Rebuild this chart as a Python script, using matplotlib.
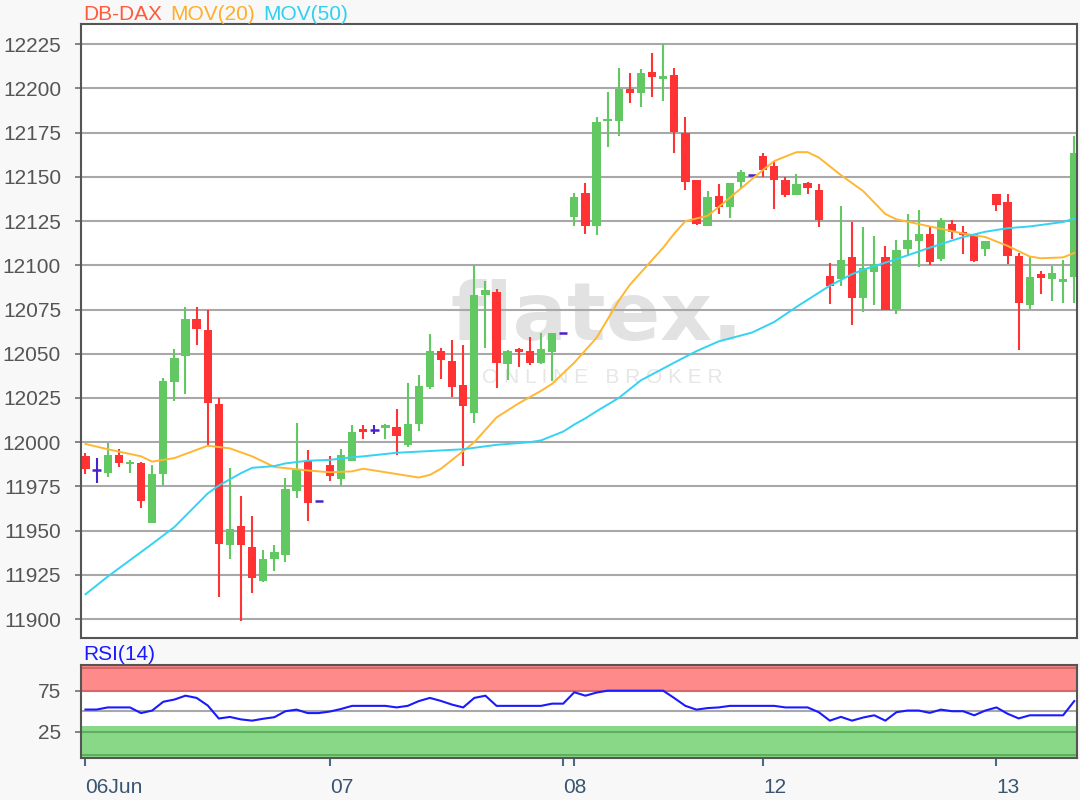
import matplotlib
matplotlib.use('Agg')
import matplotlib.pyplot as plt
import numpy as np

# OHLC per candle
opens = [11992, 11984, 11982.5, 11993, 11987.5, 11988, 11954.5, 11982, 12034, 12048.5,
         12069.5, 12063.5, 12021.5, 11942, 11952.5, 11941, 11921.5, 11934, 11936, 11972.5,
         11989.5, 11967, 11987, 11979, 11989.5, 12007, 12007, 12008, 12008.5, 11998.5,
         12010, 12031, 12051.5, 12046, 12032.5, 12016.5, 12083, 12085, 12044, 12052.5,
         12051.5, 12045, 12051, 12062, 12127.5, 12141, 12122.5, 12181.5, 12181.5, 12199.5,
         12197.5, 12209.5, 12205.5, 12207.5, 12175, 12148, 12122.5, 12139, 12133, 12147,
         12151, 12162, 12156, 12148, 12139.5, 12146.5, 12142.5, 12094, 12092, 12104.5,
         12081.5, 12096, 12104.5, 12075.5, 12109, 12113.5, 12117.5, 12103.5, 12123.5, 12119,
         12117.5, 12109, 12140.5, 12136, 12105.5, 12077.5, 12095, 12092, 12090.5, 12093.5]
highs = [11994, 11991, 11999.5, 11996, 11990, 11989, 11987, 12036.5, 12052.5, 12076.5,
         12076.5, 12074.5, 12025, 11985.5, 11969.5, 11958, 11939, 11942, 11980, 12011,
         11995.5, 11967, 11992, 11996, 12009.5, 12009.5, 12009.5, 12010.5, 12018.5, 12033.5,
         12038, 12061, 12053.5, 12057.5, 12055, 12100, 12091, 12086.5, 12052, 12053.5,
         12059.5, 12062, 12062, 12062, 12141, 12146.5, 12184, 12198, 12211.5, 12208.5,
         12211, 12220, 12225, 12211.5, 12184, 12148, 12142, 12146, 12146.5, 12154,
         12151, 12163.5, 12158.5, 12150, 12151.5, 12147, 12146, 12101.5, 12133.5, 12124.5,
         12121.5, 12116.5, 12111, 12114.5, 12129, 12131.5, 12121.5, 12126.5, 12125.5, 12122,
         12117.5, 12113.5, 12140.5, 12140.5, 12107, 12105.5, 12097, 12099.5, 12103, 12173]
lows = [11982, 11977, 11980.5, 11986, 11982.5, 11963, 11954.5, 11976, 12023.5, 12027.5,
        12055, 11998.5, 11912.5, 11934, 11899, 11914.5, 11921, 11927, 11932.5, 11968.5,
        11955.5, 11967, 11978, 11976, 11989.5, 12002, 12004.5, 12002, 11993, 11997,
        12006.5, 12030, 12035.5, 12025.5, 11986.5, 12011, 12053, 12030.5, 12035, 12042.5,
        12043.5, 12044, 12034.5, 12062, 12122.5, 12118, 12117, 12167, 12173, 12192,
        12189.5, 12195, 12193, 12163.5, 12142.5, 12123, 12122.5, 12129, 12127, 12143,
        12151, 12150, 12132, 12138.5, 12139.5, 12140.5, 12121.5, 12078, 12088.5, 12066,
        12073.5, 12077.5, 12074.5, 12072.5, 12105, 12099, 12100, 12102.5, 12115, 12106.5,
        12102, 12105.5, 12131, 12100.5, 12052, 12075.5, 12084, 12080, 12078.5, 12078.5]
closes = [11985, 11984, 11992.5, 11988, 11989, 11966.5, 11982, 12034.5, 12047.5, 12069.5,
          12064, 12022, 11942.5, 11951, 11942, 11923, 11934, 11938, 11973.5, 11984.5,
          11965.5, 11967, 11981, 11992.5, 12006, 12006, 12007, 12009.5, 12003.5, 12010.5,
          12032, 12051.5, 12046.5, 12031, 12020.5, 12083.5, 12086, 12045, 12051.5, 12051,
          12045, 12052.5, 12062, 12062, 12138.5, 12122.5, 12181, 12182.5, 12199.5, 12197.5,
          12208.5, 12206.5, 12207, 12175.5, 12147, 12123.5, 12138.5, 12133, 12146.5, 12152.5,
          12151, 12154, 12148.5, 12140, 12146, 12143.5, 12125.5, 12088.5, 12103, 12081.5,
          12098.5, 12100.5, 12075, 12108.5, 12114.5, 12117.5, 12102, 12125.5, 12119, 12117,
          12102.5, 12113.5, 12134, 12105.5, 12078.5, 12093.5, 12093, 12095.5, 12092.5, 12163.5]

# moving averages (candle index, value)
ma20_x = [0, 2, 5, 6, 8, 11, 13, 15, 17, 20, 22, 24, 25, 27, 30, 31, 32, 34, 35, 37, 39, 41, 42,
          44, 45, 46, 48, 49, 50, 52, 53, 54, 56, 57, 59, 61, 62, 64, 65, 66, 68, 70, 72, 73,
          76, 79, 81, 83, 85, 86, 88, 89]
ma20_y = [11999, 11996, 11992, 11989, 11991, 11998, 11996.5, 11992, 11986, 11984, 11983, 11983.5,
          11985, 11983, 11980, 11981.5, 11985, 11995, 12000, 12014, 12022, 12029, 12033,
          12045, 12052, 12059, 12080, 12089, 12096, 12110, 12118, 12125, 12128, 12133, 12143.5,
          12154, 12159, 12164, 12164, 12161, 12151, 12142, 12129, 12126,
          12122, 12118, 12116, 12111, 12105, 12104, 12104.5, 12107]
ma50_x = [0, 2, 6, 8, 11, 12, 14, 15, 17, 18, 20, 22, 24, 25, 28, 31, 34, 37, 40, 41, 43, 44,
          45, 46, 48, 50, 53, 55, 57, 60, 62, 64, 66, 67, 69, 70, 73, 76, 79, 81, 83, 85, 88, 89]
ma50_y = [11914, 11924, 11942.5, 11952, 11971, 11975.5, 11982.5, 11985.5, 11986.5, 11988,
          11989.5, 11990, 11991.5, 11992, 11994, 11995, 11996, 11998.5, 12000, 12001, 12006,
          12010, 12013.5, 12017.5, 12025, 12035, 12045, 12051.5, 12057, 12062, 12068, 12076.5,
          12084.5, 12088.5, 12095, 12097.5, 12103.5, 12110, 12116, 12119, 12121, 12122,
          12124.5, 12126.5]

rsi = [52, 52, 54.6, 54.6, 54.6, 47.7, 50.8, 61.5, 64.2, 68.9,
       66.2, 57, 41.1, 43, 40, 38.5, 40.8, 42.7, 50, 51.9,
       47.7, 47.7, 49.6, 52.7, 56.5, 56.5, 56.5, 56.5, 54.6, 56.5,
       62.3, 66.2, 62.5, 58, 54.6, 66.2, 68.9, 56.5, 56.5, 56.5,
       56.5, 56.5, 59.2, 59.2, 73.1, 68.9, 72.7, 75, 75, 75,
       75, 75, 75, 66, 56.5, 51.9, 53.8, 54.6, 56.5, 56.5,
       56.5, 56.5, 56.5, 54.6, 54.6, 54.6, 48.8, 38.5, 43.1, 38.5,
       42.3, 45, 38.5, 48.8, 50.8, 50.8, 48, 51.9, 50, 50,
       45, 50.8, 54.6, 46.9, 41.2, 45, 45, 45, 45, 62.3]

tick_pos = [0, 22, 43, 44, 61, 82]
tick_lbl = ['06Jun', '07', '08', '', '12', '13']

plt.rcParams['font.family'] = ['Liberation Sans', 'DejaVu Sans']

W, H = 1080, 800
fig = plt.figure(figsize=(W / 100, H / 100), dpi=100, facecolor='#f8f8f8')
L, R = 80.5, 1077
ax = fig.add_axes([L / W, 1 - 638.3 / H, (R - L) / W, (638.3 - 24.3) / H])
ax2 = fig.add_axes([L / W, 1 - 758.3 / H, (R - L) / W, (758.3 - 665) / H])

green = '#62c862'
red = '#ff3333'
doji = '#4a22cc'
bw = 0.75

x = np.arange(len(opens))
o = np.array(opens); c = np.array(closes); h = np.array(highs); l = np.array(lows)
up = c > o
dn = c < o
eq = c == o

ax.vlines(x[up], l[up], h[up], color=green, lw=1.5, zorder=2)
ax.vlines(x[dn], l[dn], h[dn], color=red, lw=1.5, zorder=2)
ax.bar(x[up], np.maximum(c[up] - o[up], 1.2), bottom=o[up], width=bw, color=green, zorder=2)
ax.bar(x[dn], np.maximum(o[dn] - c[dn], 1.2), bottom=c[dn], width=bw, color=red, zorder=2)
ax.vlines(x[eq], l[eq], h[eq], color=doji, lw=1.5, zorder=2)
ax.hlines(o[eq], x[eq] - bw / 2, x[eq] + bw / 2, color=doji, lw=1.8, zorder=2)

ax.plot(ma20_x, ma20_y, color='#ffb733', lw=1.4, zorder=3)
ax.plot(ma50_x, ma50_y, color='#35d3f3', lw=1.4, zorder=3)

# watermark
ax.text(0.518, 0.486, 'flatex.', transform=ax.transAxes, fontsize=58, fontweight='bold',
        family='DejaVu Sans', color='#e2e2e2', ha='center', va='baseline', zorder=0)
ax.text(0.524, 0.424, 'O N L I N E   B R O K E R', transform=ax.transAxes, fontsize=15,
        color='#e6e6e6', ha='center', va='center', zorder=0)

ax.set_xlim(-0.45, 89.25)
ax.set_ylim(11889.1, 12236.3)
ax.set_yticks(np.arange(11900, 12226, 25))
ax.grid(axis='y', color='#a8a8a8', lw=1.5)
ax.set_axisbelow(True)
ax.tick_params(axis='y', length=4, width=1.2, color='#707070', labelcolor='#555555',
               labelsize=15, pad=10)
ax.tick_params(axis='x', bottom=False, labelbottom=False)
for s in ax.spines.values():
    s.set_color('#555555'); s.set_linewidth(1.5)

# RSI panel
ax2.set_xlim(-0.45, 89.25)
ax2.set_ylim(-7.4, 106.3)
ax2.axhspan(73.5, 106.3, color='#ff8a8a', lw=0, zorder=0)
ax2.axhspan(-7.4, 32, color='#88d888', lw=0, zorder=0)
ax2.axhline(102.3, color='#d86868', lw=1.5, zorder=1)
ax2.axhline(75, color='#d86868', lw=1.5, zorder=1)
ax2.axhline(50, color='#a8a8a8', lw=1.5, zorder=1)
ax2.axhline(25, color='#5fae5f', lw=1.5, zorder=1)
ax2.axhline(-3.5, color='#5fae5f', lw=1.5, zorder=1)
ax2.plot(x, rsi, color='#1a1aff', lw=1.5, zorder=3)
ax2.set_yticks([25, 75])
ax2.tick_params(axis='y', length=4, width=1.2, color='#707070', labelcolor='#555555',
                labelsize=15, pad=10)
ax2.set_xticks(tick_pos)
ax2.set_xticklabels(tick_lbl)
for t in ax2.get_xticklabels():
    t.set_ha('left')
ax2.tick_params(axis='x', length=6, width=1.5, color='#4a6a8a', labelcolor='#3a5570',
                labelsize=15, pad=8)
for s in ax2.spines.values():
    s.set_color('#555555'); s.set_linewidth(1.5)

fig.text(83 / W, 1 - 15 / H, 'DB-DAX', color='#ff5a3a', fontsize=15, va='center')
fig.text(170 / W, 1 - 15 / H, 'MOV(20)', color='#ffae2a', fontsize=15, va='center')
fig.text(263 / W, 1 - 15 / H, 'MOV(50)', color='#2fd0f0', fontsize=15, va='center')
fig.text(83 / W, 1 - 655 / H, 'RSI(14)', color='#1a1aff', fontsize=15, va='center')

fig.savefig('out.png', dpi=100, facecolor=fig.get_facecolor())
